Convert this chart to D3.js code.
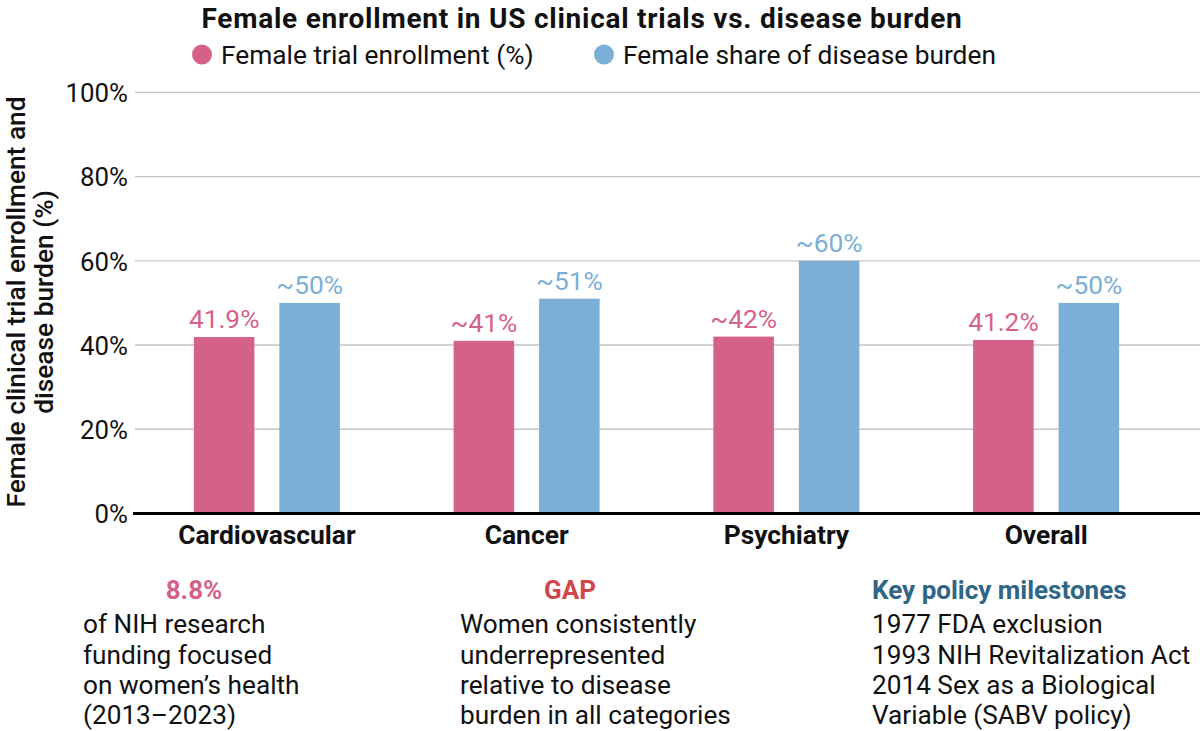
<!DOCTYPE html>
<html>
<head>
<meta charset="utf-8">
<script src="https://cdn.jsdelivr.net/npm/d3@7"></script>
<style>
  html, body { margin: 0; padding: 0; background: #fff; }
  svg { display: block; font-family: Roboto, "Noto Sans", sans-serif; }
</style>
</head>
<body>
<svg id="chart" width="1200" height="731"></svg>
<script>
const categories = ["Cardiovascular", "Cancer", "Psychiatry", "Overall"];
const seriesNames = ["Female trial enrollment (%)", "Female share of disease burden"];
const enrollment = [41.9, 41, 42, 41.2];
const burden = [50, 51, 60, 50];
const enrollmentLabels = ["41.9%", "~41%", "~42%", "41.2%"];
const burdenLabels = ["~50%", "~51%", "~60%", "~50%"];
const yTicks = [0, 20, 40, 60, 80, 100];
const seriesColors = ["#d5618a", "#7bafd5"];

const notes = [
  { head: "8.8%", headColor: "#d5618a", lines: ["of NIH research", "funding focused", "on women’s health", "(2013–2023)"], x: 83, headX: 194, anchor: "middle" },
  { head: "GAP", headColor: "#d0474b", lines: ["Women consistently", "underrepresented", "relative to disease", "burden in all categories"], x: 460, headX: 570, anchor: "middle" },
  { head: "Key policy milestones", headColor: "#2f6585", lines: ["1977 FDA exclusion", "1993 NIH Revitalization Act", "2014 Sex as a Biological", "Variable (SABV policy)"], x: 872, headX: 872, anchor: "start" }
];

const svg = d3.select("#chart");

const y = d3.scaleLinear().domain([0, 100]).range([513.5, 92.3]);
const x0 = d3.scaleBand().domain(categories).range([137, 1176]).padding(0);
const x1 = d3.scaleBand().domain([0, 1]).range([-73, 73]).paddingInner(0.292).paddingOuter(0);

// gridlines
svg.append("g")
  .selectAll("line")
  .data(yTicks.filter(d => d > 0))
  .join("line")
  .attr("x1", 135).attr("x2", 1200)
  .attr("y1", d => y(d)).attr("y2", d => y(d))
  .attr("stroke", "#c4c4c4").attr("stroke-width", 1.3);

// y axis tick labels
const yAxis = d3.axisLeft(y).tickValues(yTicks).tickFormat(d => d + "%").tickSize(0).tickPadding(0);
const gy = svg.append("g").attr("transform", "translate(128,0)").call(yAxis);
gy.select(".domain").remove();
gy.selectAll("text").attr("font-size", 25.8).attr("fill", "#111").attr("font-family", "Roboto").attr("dy", "0.36em");

// bars
const data = categories.map((c, i) => ({ c, vals: [enrollment[i], burden[i]], labels: [enrollmentLabels[i], burdenLabels[i]] }));
const groups = svg.append("g").selectAll("g")
  .data(data).join("g")
  .attr("transform", d => `translate(${x0(d.c) + x0.bandwidth() / 2},0)`);

groups.selectAll("rect")
  .data(d => d.vals.map((v, k) => ({ v, k })))
  .join("rect")
  .attr("x", d => x1(d.k))
  .attr("width", x1.bandwidth())
  .attr("y", d => y(d.v))
  .attr("height", d => y(0) - y(d.v))
  .attr("fill", d => seriesColors[d.k]);

groups.selectAll("text.val")
  .data(d => d.vals.map((v, k) => ({ v, k, label: d.labels[k] })))
  .join("text")
  .attr("class", "val")
  .attr("x", d => x1(d.k) + x1.bandwidth() / 2)
  .attr("y", d => y(d.v) - 9)
  .attr("text-anchor", "middle")
  .attr("font-size", 26.3)
  .attr("fill", d => seriesColors[d.k])
  .text(d => d.label);

// baseline
svg.append("line")
  .attr("x1", 133).attr("x2", 1200)
  .attr("y1", y(0)).attr("y2", y(0))
  .attr("stroke", "#000").attr("stroke-width", 3);

// x axis labels
const xAxis = d3.axisBottom(x0).tickSize(0).tickPadding(0);
const gx = svg.append("g").attr("transform", "translate(0,0)").call(xAxis);
gx.select(".domain").remove();
gx.selectAll("text").attr("font-size", 26.4).attr("font-weight", "bold").attr("fill", "#111")
  .attr("font-family", "Roboto").attr("y", 544).attr("dy", 0);

// y axis title
svg.append("text")
  .attr("transform", "translate(0,302) rotate(-90)")
  .attr("text-anchor", "middle")
  .attr("font-size", 26.3).attr("font-weight", 500).attr("fill", "#111")
  .selectAll("tspan")
  .data(["Female clinical trial enrollment and", "disease burden (%)"])
  .join("tspan")
  .attr("x", 0)
  .attr("y", (d, i) => 25 + i * 27.5)
  .text(d => d);

// title
svg.append("text")
  .attr("x", 582).attr("y", 27.5)
  .attr("text-anchor", "middle")
  .attr("font-size", 28).attr("font-weight", "bold").attr("fill", "#111")
  .attr("letter-spacing", 0.75)
  .text("Female enrollment in US clinical trials vs. disease burden");

// legend
const legendX = [202, 604];
const leg = svg.append("g").selectAll("g").data(seriesNames).join("g")
  .attr("transform", (d, i) => `translate(${legendX[i]},0)`);
leg.append("circle").attr("cy", 54.5).attr("r", 10).attr("fill", (d, i) => seriesColors[i]);
leg.append("text").attr("x", 19).attr("y", 64)
  .attr("font-size", 26.3).attr("fill", "#111").text(d => d);

// notes
const ng = svg.append("g").selectAll("g").data(notes).join("g");
ng.append("text")
  .attr("x", d => d.headX).attr("y", 599.3)
  .attr("text-anchor", d => d.anchor)
  .attr("font-size", 26).attr("font-weight", "bold")
  .attr("fill", d => d.headColor)
  .text(d => d.head);
ng.each(function(d) {
  d3.select(this).append("text")
    .attr("font-size", 26.2).attr("fill", "#111")
    .selectAll("tspan").data(d.lines).join("tspan")
    .attr("x", d.x).attr("y", (l, i) => 633.3 + i * 30.2)
    .text(l => l);
});
</script>
</body>
</html>
